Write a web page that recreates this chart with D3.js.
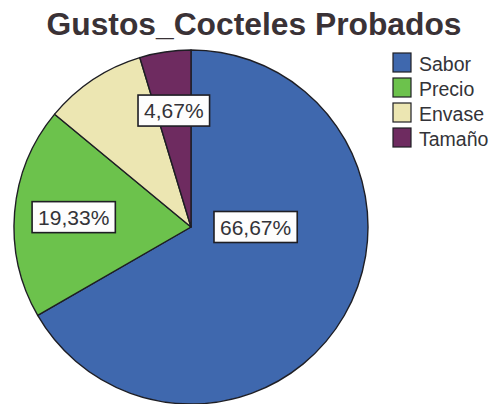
<!DOCTYPE html>
<html>
<head>
<meta charset="utf-8">
<script src="https://cdn.jsdelivr.net/npm/d3@7"></script>
<style>
  html, body { margin: 0; padding: 0; background: #fff; }
  svg { display: block; }
</style>
</head>
<body>
<svg id="chart" width="494" height="404"></svg>
<script>
// Gustos por cóctel probado (porcentaje de respuestas)
const categories = ["Sabor", "Precio", "Envase", "Tamaño"];
const percentages = [66.67, 19.33, 9.33, 4.67];
const shownLabels = ["66,67%", "19,33%", "", "4,67%"];
const sliceColors = ["#3f68ae", "#6cc24c", "#ece6b2", "#6e2b60"];
const chartTitle = "Gustos_Cocteles Probados";

const svg = d3.select("#chart");
const W = 494, H = 404;
const cx = 191, cy = 227, radius = 177;

svg.append("rect").attr("width", W).attr("height", H).attr("fill", "#fff");

// title
svg.append("text")
  .attr("x", 254).attr("y", 35)
  .attr("text-anchor", "middle")
  .attr("font-family", "Liberation Sans, Arial, sans-serif")
  .attr("font-weight", "bold")
  .attr("font-size", 31)
  .attr("textLength", 415)
  .attr("lengthAdjust", "spacingAndGlyphs")
  .attr("fill", "#3a3236")
  .text(chartTitle);

const data = categories.map((c, i) => ({ cat: c, value: percentages[i], label: shownLabels[i], color: sliceColors[i] }));

const pie = d3.pie().sort(null).value(d => d.value);
const arcs = pie(data);
const arc = d3.arc().innerRadius(0).outerRadius(radius);

const g = svg.append("g").attr("transform", `translate(${cx},${cy})`);

g.selectAll("path.slice")
  .data(arcs)
  .join("path")
  .attr("class", "slice")
  .attr("d", arc)
  .attr("fill", d => d.data.color)
  .attr("stroke", "#1e1e24")
  .attr("stroke-width", 1.4)
  .attr("stroke-linejoin", "round");

// label anchor: small slices on the mid-angle at 2/3 radius,
// a slice covering more than half the pie gets its label on the horizontal axis
function labelPos(d) {
  const span = d.endAngle - d.startAngle;
  if (span > Math.PI) {
    const side = Math.sin((d.startAngle + d.endAngle) / 2) >= 0 ? 1 : -1;
    return [side * radius * 0.365, 0];
  }
  const a = (d.startAngle + d.endAngle) / 2;
  const rr = radius * 0.665;
  return [Math.sin(a) * rr, -Math.cos(a) * rr];
}

const labelG = g.selectAll("g.lbl")
  .data(arcs.filter(d => d.data.label))
  .join("g")
  .attr("class", "lbl")
  .attr("transform", d => { const p = labelPos(d); return `translate(${p[0]},${p[1]})`; });

labelG.each(function(d) {
  const sel = d3.select(this);
  const rect = sel.append("rect");
  const t = sel.append("text")
    .attr("text-anchor", "middle")
    .attr("dy", "0.36em")
    .attr("font-family", "Liberation Sans, Arial, sans-serif")
    .attr("font-size", 21)
    .attr("fill", "#333338")
    .text(d.data.label);
  const bb = t.node().getBBox();
  const padX = 6, h = 31;
  rect.attr("x", bb.x - padX).attr("y", -h / 2)
    .attr("width", bb.width + 2 * padX).attr("height", h)
    .attr("fill", "#fdfdfd")
    .attr("stroke", "#1e1e24")
    .attr("stroke-width", 1.6);
});

// legend
const legend = svg.append("g").attr("transform", "translate(393,53)");
const rowH = 25;
const items = legend.selectAll("g.item")
  .data(data)
  .join("g")
  .attr("class", "item")
  .attr("transform", (d, i) => `translate(0,${i * rowH})`);

items.append("rect")
  .attr("width", 18).attr("height", 19)
  .attr("fill", d => d.color)
  .attr("stroke", "#1e1e24")
  .attr("stroke-width", 1.2);

items.append("text")
  .attr("x", 26).attr("y", 18)
  .attr("font-family", "Liberation Sans, Arial, sans-serif")
  .attr("font-size", 19.5)
  .attr("fill", "#333338")
  .text(d => d.cat);
</script>
</body>
</html>
